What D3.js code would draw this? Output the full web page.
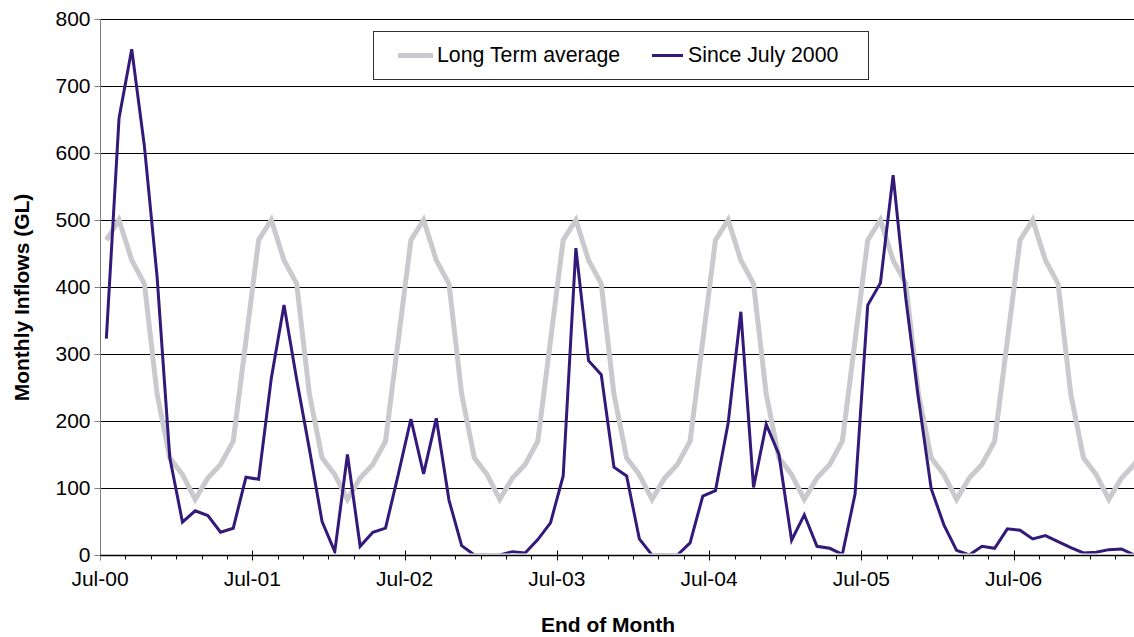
<!DOCTYPE html>
<html>
<head>
<meta charset="utf-8">
<script src="https://cdnjs.cloudflare.com/ajax/libs/d3/7.8.5/d3.min.js"></script>
<style>
  html, body { margin: 0; padding: 0; background: #fff; }
  svg { display: block; font-family: "Liberation Sans", Arial, sans-serif; }
</style>
</head>
<body>
<svg id="chart" width="1134" height="637"></svg>
<script>
// ---- Data ----
const seriesNames = ["Long Term average", "Since July 2000"];
const monthCount = 84; // Jul-00 .. Jun-07 categories (plot area extends past the right edge)
const tickLabels = ["Jul-00", "Jul-01", "Jul-02", "Jul-03", "Jul-04", "Jul-05", "Jul-06"];
const yTicks = [0, 100, 200, 300, 400, 500, 600, 700, 800];

// Long term monthly average (Jul..Jun), repeated each year as in the source chart
const longTermAverage = [
  470, 500, 440, 405, 240, 145, 120, 83, 115, 135, 170, 320,
  470, 500, 440, 405, 240, 145, 120, 83, 115, 135, 170, 320,
  470, 500, 440, 405, 240, 145, 120, 83, 115, 135, 170, 320,
  470, 500, 440, 405, 240, 145, 120, 83, 115, 135, 170, 320,
  470, 500, 440, 405, 240, 145, 120, 83, 115, 135, 170, 320,
  470, 500, 440, 405, 240, 145, 120, 83, 115, 135, 170, 320,
  470, 500, 440, 405, 240, 145, 120, 83, 115, 135, 170, 320
];

// Monthly inflows since July 2000 (GL)
const sinceJuly2000 = [
  323, 652, 755, 610, 415, 145, 49, 66, 59, 34, 40, 116,
  113, 264, 373, 262, 158, 50, 5, 150, 13, 34, 40, 120,
  203, 121, 204, 82, 14, 0, 0, 0, 5, 3, 23, 48,
  118, 458, 290, 269, 131, 118, 24, 0, 0, 0, 18, 88,
  96, 197, 363, 101, 195, 150, 22, 60, 13, 10, 1, 91,
  373, 406, 567, 383, 233, 99, 45, 7, 0, 13, 10, 39,
  37, 24, 29, 20, 11, 3, 4, 8, 9, 0
];

// ---- Layout ----
const W = 1134, H = 637;
const plot = { left: 100, top: 19, bottom: 555, right: 100 + 84 * 12.69 };

const svg = d3.select("#chart");
svg.append("rect").attr("width", W).attr("height", H).attr("fill", "#fff");

const x = d3.scaleLinear().domain([0, monthCount]).range([plot.left, plot.right]);
const y = d3.scaleLinear().domain([0, 800]).range([plot.bottom, plot.top]);

// Gridlines
svg.append("g")
  .selectAll("line")
  .data(yTicks.filter(d => d > 0))
  .join("line")
  .attr("x1", plot.left).attr("x2", W)
  .attr("y1", d => Math.round(y(d)) + 0.5).attr("y2", d => Math.round(y(d)) + 0.5)
  .attr("stroke", "#000").attr("stroke-width", 1);

// Clips for series (plot area; the series line is hidden where it lies on the axis)
svg.append("clipPath").attr("id", "clipA")
  .append("rect").attr("x", plot.left).attr("y", 0).attr("width", W - plot.left).attr("height", plot.bottom);
svg.append("clipPath").attr("id", "clipB")
  .append("rect").attr("x", plot.left).attr("y", 0).attr("width", W - plot.left).attr("height", plot.bottom - 1.5);

const line = d3.line().x((d, i) => x(i + 0.5)).y(d => y(d));

svg.append("path")
  .attr("clip-path", "url(#clipA)")
  .datum(longTermAverage)
  .attr("d", line)
  .attr("fill", "none")
  .attr("stroke", "#CACACE")
  .attr("stroke-width", 5)
  .attr("stroke-linejoin", "miter");

svg.append("path")
  .attr("clip-path", "url(#clipB)")
  .datum(sinceJuly2000)
  .attr("d", line)
  .attr("fill", "none")
  .attr("stroke", "#33197A")
  .attr("stroke-width", 3)
  .attr("stroke-linejoin", "miter");

// Y axis
const yAxis = d3.axisLeft(y).tickValues(yTicks).tickSize(6).tickPadding(4);
const gy = svg.append("g").attr("transform", `translate(${plot.left + 0.5},0)`).call(yAxis);
gy.select(".domain").attr("stroke", "#808080").attr("d", `M0,${plot.top}V${plot.bottom}`);
gy.selectAll(".tick line").attr("stroke", "#808080");
gy.selectAll(".tick text")
  .attr("font-size", 21).attr("fill", "#000")
  .attr("font-family", "Liberation Sans, Arial, sans-serif");

// X axis (category boundaries; minor tick every 2 months, labels every 12)
const minorTicks = d3.range(0, monthCount + 1, 2);
const gx = svg.append("g").attr("transform", `translate(0,${plot.bottom + 0.5})`);
gx.append("line").attr("x1", plot.left).attr("x2", W).attr("y1", 0).attr("y2", 0)
  .attr("stroke", "#000").attr("stroke-width", 1.5);
gx.selectAll("line.minor")
  .data(minorTicks.filter(d => d % 12 !== 0))
  .join("line").attr("class", "minor")
  .attr("x1", d => Math.round(x(d)) + 0.5).attr("x2", d => Math.round(x(d)) + 0.5)
  .attr("y1", 0).attr("y2", 4)
  .attr("stroke", "#000");
gx.selectAll("line.major")
  .data(tickLabels.map((t, k) => k * 12))
  .join("line").attr("class", "major")
  .attr("x1", d => Math.round(x(d)) + 0.5).attr("x2", d => Math.round(x(d)) + 0.5)
  .attr("y1", d => d === 0 ? 0 : -5).attr("y2", 5)
  .attr("stroke", d => d === 0 ? "#808080" : "#000");
gx.selectAll("text")
  .data(tickLabels)
  .join("text")
  .attr("x", (t, k) => x(k * 12))
  .attr("y", 30.5)
  .attr("text-anchor", "middle")
  .attr("font-size", 21)
  .attr("fill", "#000")
  .text(t => t);

// Axis titles
svg.append("text")
  .attr("x", 608).attr("y", 632)
  .attr("text-anchor", "middle")
  .attr("font-size", 21).attr("font-weight", "bold")
  .text("End of Month");

svg.append("text")
  .attr("transform", "translate(28.5,297.5) rotate(-90)")
  .attr("text-anchor", "middle")
  .attr("font-size", 21).attr("font-weight", "bold")
  .text("Monthly Inflows (GL)");

// Legend
const legend = svg.append("g");
legend.append("rect")
  .attr("x", 373.5).attr("y", 31.5).attr("width", 495).attr("height", 48)
  .attr("fill", "#fff").attr("stroke", "#333").attr("stroke-width", 1);
const legendItems = [
  { name: seriesNames[0], color: "#CACACE", width: 5, x1: 398, x2: 433, tx: 437 },
  { name: seriesNames[1], color: "#33197A", width: 3, x1: 652, x2: 683, tx: 688 }
];
legendItems.forEach(it => {
  legend.append("line")
    .attr("x1", it.x1).attr("x2", it.x2).attr("y1", 55.5).attr("y2", 55.5)
    .attr("stroke", it.color).attr("stroke-width", it.width);
  legend.append("text")
    .attr("x", it.tx).attr("y", 62)
    .attr("font-size", 21.3).attr("fill", "#000")
    .text(it.name);
});
</script>
</body>
</html>
